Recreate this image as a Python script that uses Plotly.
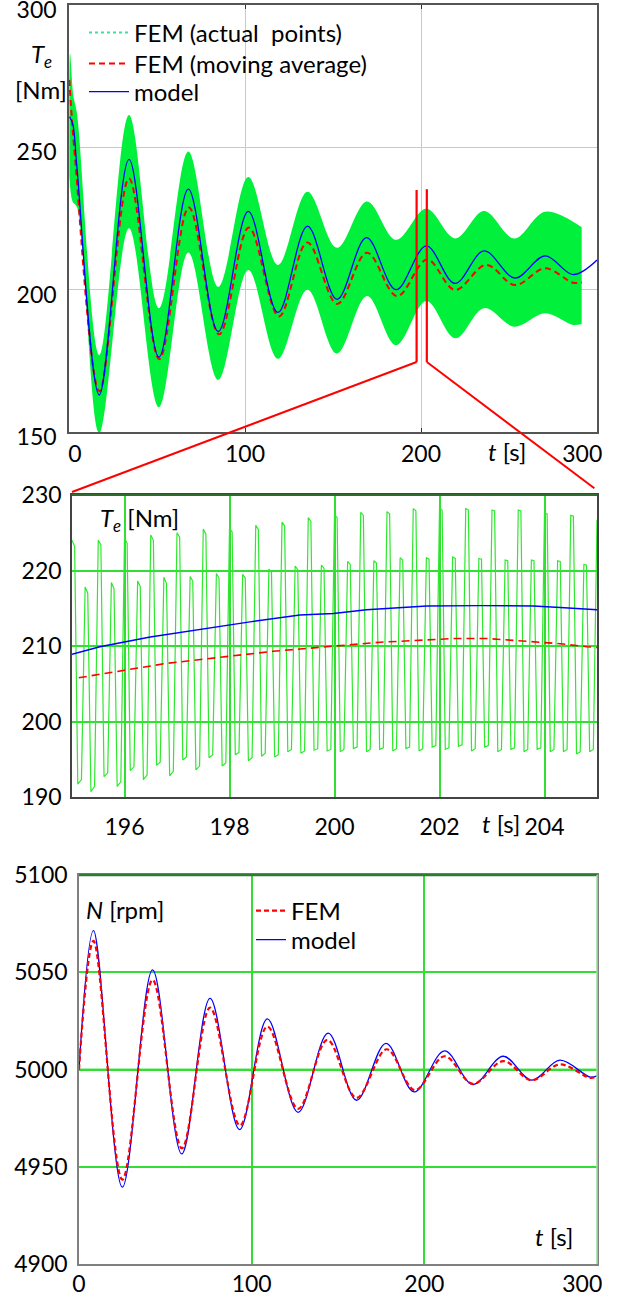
import plotly.graph_objects as go

W, H = 630, 1297
FONT = "Lato"

# ---------------- Panel 1 : T_e over 0..300 s ----------------
t1_model = [0.3, 2.2, 4.5, 17.2, 34.1, 51.1, 67.8, 84.8, 101.9, 118.7, 135.5, 152.3, 169.0,
            185.8, 203.0, 219.3, 235.8, 253.4, 270.5, 286.5, 300.0]
te1_model = [260.8, 258.0, 243.0, 163.0, 245.8, 176.3, 235.3, 185.3, 227.5, 192.0, 222.3, 196.6,
             218.3, 200.0, 215.4, 202.2, 213.6, 204.1, 211.9, 205.3, 210.4]

t1_avg = [0.2, 1.3, 3.4, 17.3, 34.1, 51.3, 68.1, 85.3, 102.2, 119.3, 135.4, 152.4, 169.3,
          186.4, 203.5, 219.3, 237.0, 253.4, 270.5, 286.5, 291.3]
te1_avg = [273.7, 263.0, 246.7, 164.3, 239.1, 175.6, 228.9, 184.3, 221.8, 190.6, 216.6, 195.0,
           213.0, 197.7, 210.6, 199.9, 208.7, 201.6, 207.5, 202.4, 202.6]

t1_up = [0.2, 0.6, 2.5, 4.5, 17.2, 34.1, 51.1, 67.8, 84.8, 101.9, 118.7, 135.5, 152.2, 169.3,
         185.8, 203.0, 219.5, 235.8, 253.0, 270.5, 291.3]
te1_up = [268.0, 283.0, 268.0, 262.0, 177.0, 261.4, 193.5, 248.5, 201.0, 239.6, 208.7, 234.4,
          214.7, 231.0, 217.5, 228.4, 218.0, 227.6, 218.0, 227.4, 221.9]

t1_lo = [0.2, 2.0, 4.5, 17.2, 34.1, 51.1, 67.8, 84.8, 101.9, 118.7, 135.5, 152.2, 169.3,
         185.8, 203.0, 219.5, 235.8, 253.0, 270.5, 286.5, 291.3]
te1_lo = [240.0, 231.0, 229.0, 149.6, 221.6, 158.7, 213.1, 168.3, 206.9, 175.7, 200.0, 177.6,
          197.8, 180.5, 196.0, 182.9, 193.5, 187.0, 191.7, 187.6, 187.9]

x1_ticks = [0, 100, 200, 300]
x1_text = ["&nbsp;&nbsp;0", "100", "200", "300" + "&nbsp;" * 5]
y1_ticks = [150, 200, 250, 300]

# ---------------- Panel 2 : zoom 195..205 s ----------------
pk_t = [195.00, 195.25, 195.50, 195.75, 196.00, 196.25, 196.50, 196.75, 197.00, 197.25,
        197.50, 197.75, 198.00, 198.25, 198.50, 198.75, 199.00, 199.25, 199.50, 199.75,
        200.00, 200.25, 200.50, 200.75, 201.00, 201.25, 201.50, 201.75, 202.00, 202.25,
        202.50, 202.75, 203.00, 203.25, 203.50, 203.75, 204.00, 204.25, 204.50, 204.75, 205.00]
top_a = [224.0, 217.8, 224.0, 218.4, 224.3, 218.6, 224.7, 219.1, 225.0, 219.2, 225.5, 219.6,
         225.6, 219.5, 226.0, 220.2, 226.4, 220.6, 227.0, 220.7, 227.4, 221.2, 227.7, 221.3,
         227.8, 221.7, 228.2, 221.7, 228.2, 221.8, 228.2, 221.6, 228.0, 221.4, 228.0, 221.4,
         227.6, 221.3, 227.3, 220.8, 226.7]
top_b = [223.2, 217.0, 223.4, 217.6, 223.6, 217.9, 224.0, 218.3, 224.4, 218.6, 224.8, 219.0,
         225.1, 219.0, 225.4, 219.7, 225.9, 220.1, 226.5, 220.3, 227.0, 220.8, 227.3, 221.0,
         227.5, 221.4, 227.9, 221.5, 228.0, 221.6, 228.0, 221.5, 227.9, 221.3, 227.9, 221.3,
         227.5, 221.2, 227.2, 220.7]
tr_a = [191.7, 190.7, 192.7, 191.4, 193.5, 192.3, 194.2, 192.8, 194.9, 193.6, 195.2, 194.1,
        195.6, 194.8, 195.4, 195.3, 196.0, 195.8, 196.2, 196.1, 196.0, 196.4, 196.0, 196.3,
        196.1, 196.4, 196.1, 196.6, 196.3, 196.7, 196.1, 196.6, 196.0, 196.3, 196.0, 196.3,
        196.0, 196.0, 195.7, 196.0]
tr_b = [192.3, 191.4, 193.2, 192.0, 194.0, 192.9, 194.6, 193.4, 195.3, 194.1, 195.6, 194.5,
        195.9, 195.2, 195.8, 195.6, 196.3, 196.1, 196.4, 196.3, 196.3, 196.6, 196.3, 196.5,
        196.4, 196.6, 196.4, 196.8, 196.5, 196.9, 196.4, 196.8, 196.3, 196.5, 196.3, 196.5,
        196.3, 196.3, 196.0, 196.3]

t2_avg = [195.13, 195.72, 196.23, 196.80, 197.31, 197.82, 198.33, 198.83, 199.34, 199.85,
          200.35, 200.87, 201.76, 202.26, 202.90, 203.29, 203.78, 204.30, 204.81, 205.0]
te2_avg = [205.8, 206.5, 207.1, 207.7, 208.1, 208.5, 208.9, 209.3, 209.6, 209.9,
           210.2, 210.5, 210.8, 211.0, 211.0, 210.8, 210.5, 210.3, 209.9, 209.8]

t2_model = [195.0, 195.53, 196.49, 197.44, 198.39, 199.34, 199.98, 200.61, 201.25, 201.76,
            202.77, 203.79, 204.30, 204.73, 205.0]
te2_model = [208.9, 209.9, 211.2, 212.2, 213.2, 214.1, 214.3, 214.8, 215.1, 215.3,
             215.35, 215.3, 215.1, 214.9, 214.8]

x2_ticks = [196, 198, 200, 202, 204]
y2_ticks = [190, 200, 210, 220, 230]

# ---------------- Panel 3 : speed ----------------
t3_model = [0, 8.4, 25.1, 42.6, 59.5, 75.9, 93.0, 109.1, 126.9, 144.3, 160.7, 177.8, 194.1,
            211.7, 228.1, 245.7, 262.1, 278.5, 296.0, 300.0]
n_model = [5000, 5071.4, 4939.5, 5051.2, 4956.6, 5036.6, 4969.1, 5026.0, 4978.0, 5018.7,
           4984.2, 5013.4, 4988.5, 5009.6, 4992.3, 5006.8, 4994.5, 5004.8, 4996.1, 4996.8]
t3_fem = [0, 8.4, 25.1, 42.6, 59.6, 75.9, 93.2, 109.1, 126.9, 143.8, 160.7, 178.2, 194.5,
          211.7, 228.1, 245.7, 262.1, 278.5, 296.0, 300.0]
n_fem = [5000, 5066.1, 4943.4, 5046.1, 4959.5, 5031.8, 4971.2, 5022.1, 4979.8, 5015.2,
         4985.4, 5010.4, 4989.4, 5006.8, 4992.6, 5004.3, 4994.5, 5002.6, 4995.7, 4996.3]

x3_ticks = [0, 100, 200, 300]
x3_text = ["0", "100", "200", "300" + "&nbsp;" * 5]
y3_ticks = [4900, 4950, 5000, 5050, 5100]

# ---------------- layout geometry (pixels) ----------------
def xd(a, b):
    return [a / W, b / W]

def yd(top, bottom):
    return [1 - bottom / H, 1 - top / H]

X1, Y1 = xd(69, 597), yd(5, 432)
X2, Y2 = xd(72, 597), yd(495, 797)
X3, Y3 = xd(79, 597), yd(875, 1264)
R1x, R1y = [0, 300], [150, 300]
R2x, R2y = [195, 205], [190, 230]
R3x, R3y = [0, 300], [4900, 5100]

GREEN_BAND = "#00f03c"
GREEN_LINE = "#2ee82e"
RED = "#ff0000"
BLUE = "#0000ff"

fig = go.Figure()

# panel 1
fig.add_trace(go.Scatter(x=t1_lo, y=te1_lo, mode="lines", line=dict(width=0, shape="spline", color=GREEN_BAND),
                         showlegend=False, hoverinfo="skip", xaxis="x", yaxis="y"))
fig.add_trace(go.Scatter(x=t1_up, y=te1_up, mode="lines", line=dict(width=0, shape="spline", color=GREEN_BAND),
                         fill="tonexty", fillcolor=GREEN_BAND, showlegend=False, hoverinfo="skip",
                         xaxis="x", yaxis="y"))
fig.add_trace(go.Scatter(x=[None], y=[None], mode="lines", name="FEM (actual  points)",
                         line=dict(color="#35e69a", width=2, dash="dot"), legend="legend",
                         xaxis="x", yaxis="y"))
fig.add_trace(go.Scatter(x=t1_avg, y=te1_avg, mode="lines", name="FEM (moving average)",
                         line=dict(color=RED, width=2, dash="6px,4px", shape="spline"), legend="legend3",
                         xaxis="x", yaxis="y"))
fig.add_trace(go.Scatter(x=t1_model, y=te1_model, mode="lines", name="model",
                         line=dict(color=BLUE, width=1.3, shape="spline"), legend="legend4",
                         xaxis="x", yaxis="y"))

# panel 2
t_green, v_green = [], []
for k in range(len(pk_t)):
    t_green.append(pk_t[k]); v_green.append(top_a[k])
    if k < len(tr_a):
        t_green += [pk_t[k] + 0.05, pk_t[k] + 0.11, pk_t[k] + 0.18]
        v_green += [top_b[k], tr_a[k], tr_b[k]]
fig.add_trace(go.Scatter(x=t_green, y=v_green, mode="lines", line=dict(color=GREEN_LINE, width=1.2),
                         showlegend=False, xaxis="x2", yaxis="y2"))
fig.add_trace(go.Scatter(x=t2_avg, y=te2_avg, mode="lines", line=dict(color=RED, width=1.6, dash="8px,5px"),
                         showlegend=False, xaxis="x2", yaxis="y2"))
fig.add_trace(go.Scatter(x=t2_model, y=te2_model, mode="lines", line=dict(color=BLUE, width=1.4),
                         showlegend=False, xaxis="x2", yaxis="y2"))

# panel 3
fig.add_trace(go.Scatter(x=t3_model, y=n_model, mode="lines", name="model",
                         line=dict(color=BLUE, width=1.3, shape="spline"), legend="legend5",
                         xaxis="x3", yaxis="y3"))
fig.add_trace(go.Scatter(x=t3_fem, y=n_fem, mode="lines", name="FEM",
                         line=dict(color=RED, width=2.2, dash="5px,3px", shape="spline"), legend="legend2",
                         xaxis="x3", yaxis="y3"))

tickfont = dict(family=FONT, size=23, color="#000")

def axis(dom, rng, anchor, vals, grid, gw, lc, standoff, text=None, ticks="", shift=0):
    d = dict(domain=dom, range=rng, anchor=anchor, tickvals=vals, showgrid=True, gridcolor=grid,
             gridwidth=gw, zeroline=False, showline=True, linecolor=lc, linewidth=1.5, mirror=True,
             tickfont=tickfont, ticks=ticks, ticklen=4, tickcolor="#333", ticklabelstandoff=standoff,
             ticklabeloverflow="allow", automargin=False, fixedrange=True)
    if text is not None:
        d["ticktext"] = text
    if shift:
        d["ticklabelshift"] = shift
    return d

def leg(x, y, itemwidth=40):
    return dict(x=x / W, y=1 - y / H, xanchor="left", yanchor="middle", bgcolor="rgba(0,0,0,0)",
                font=dict(family=FONT, size=24), itemwidth=itemwidth, borderwidth=0)

layout = dict(
    width=W, height=H, margin=dict(l=0, r=0, t=0, b=0, autoexpand=False),
    paper_bgcolor="white", plot_bgcolor="white",
    font=dict(family=FONT, size=23, color="#000"),
    xaxis=axis(X1, R1x, "y", x1_ticks, "#9aee88", 1.2, "#555", 1, text=x1_text, ticks="inside"),
    yaxis=axis(Y1, R1y, "x", y1_ticks, "#9aee88", 1.2, "#555", 6, shift=5),
    xaxis2=axis(X2, R2x, "y2", x2_ticks, "#33dd33", 1.5, "#444", 9),
    yaxis2=axis(Y2, R2y, "x2", y2_ticks, "#33dd33", 1.5, "#444", 4),
    xaxis3=axis(X3, R3x, "y3", x3_ticks, "#33dd33", 1.5, "#808080", -1, text=x3_text),
    yaxis3=axis(Y3, R3y, "x3", y3_ticks, "#33dd33", 1.5, "#808080", 5),
    legend=leg(84, 33),
    legend3=leg(84, 64),
    legend4=leg(84, 92),
    legend2=leg(251, 911, 30),
    legend5=leg(251, 940, 30),
)
fig.update_layout(**layout)
fig.update_layout(xaxis_mirror="ticks")

# helpers to map data coords to paper coords
def p_of(t, v, X, Y, rx, ry):
    return (X[0] + (t - rx[0]) / (rx[1] - rx[0]) * (X[1] - X[0]),
            Y[0] + (v - ry[0]) / (ry[1] - ry[0]) * (Y[1] - Y[0]))

shapes = []
shapes.append(dict(type="line", xref="x2 domain", yref="y2 domain", x0=0, x1=1, y0=1, y1=1,
                   line=dict(color="#2f6a2f", width=2)))
shapes.append(dict(type="line", xref="x3 domain", yref="y3 domain", x0=0, x1=1, y0=1, y1=1,
                   line=dict(color="#2e7a2e", width=2.5)))
shapes.append(dict(type="line", xref="x3 domain", yref="y3 domain", x0=1, x1=1, y0=0, y1=1,
                   line=dict(color="#9fdc9f", width=1.5)))
shapes.append(dict(type="line", xref="x3 domain", yref="y3", x0=0, x1=1, y0=5000, y1=5000,
                   line=dict(color="#8cee8c", width=2.5), layer="below"))

# zoom connectors
zl, zr = 197.5, 203.3
ztop_l, ztop_r, zbot = 235.0, 235.3, 174.6
shapes.append(dict(type="line", xref="x", yref="y", x0=zl, x1=zl, y0=ztop_l, y1=zbot,
                   line=dict(color=RED, width=2.2)))
shapes.append(dict(type="line", xref="x", yref="y", x0=zr, x1=zr, y0=ztop_r, y1=zbot,
                   line=dict(color=RED, width=2.2)))
a = p_of(zl, zbot, X1, Y1, R1x, R1y)
b = p_of(195.0, 230.4, X2, Y2, R2x, R2y)
shapes.append(dict(type="line", xref="paper", yref="paper", x0=a[0], y0=a[1], x1=b[0], y1=b[1],
                   line=dict(color=RED, width=2)))
a = p_of(zr, zbot, X1, Y1, R1x, R1y)
b = p_of(204.95, 230.9, X2, Y2, R2x, R2y)
shapes.append(dict(type="line", xref="paper", yref="paper", x0=a[0], y0=a[1], x1=b[0], y1=b[1],
                   line=dict(color=RED, width=2)))
fig.update_layout(shapes=shapes)

ann = []
def A(text, x, y, xanchor="center", size=24):
    ann.append(dict(text=text, x=x / W, y=1 - y / H, xref="paper", yref="paper", showarrow=False,
                    xanchor=xanchor, yanchor="middle", font=dict(family=FONT, size=size, color="#000")))

A("<i>T</i><sub><i>e</i></sub>", 41, 56)
A("[Nm]", 41, 90)
A("<i>t</i> [s]", 507, 451)
A("<i>T</i><sub><i>e</i></sub> [Nm]", 98, 519, xanchor="left")
A("<i>t</i> [s]", 501, 824)
A("<i>N</i> [rpm]", 84, 909, xanchor="left")
A("<i>t</i> [s]", 554, 1236)
fig.update_layout(annotations=ann)

fig.write_html("out.html",
               post_script="document.body.style.margin='0';document.body.style.overflow='hidden';")
